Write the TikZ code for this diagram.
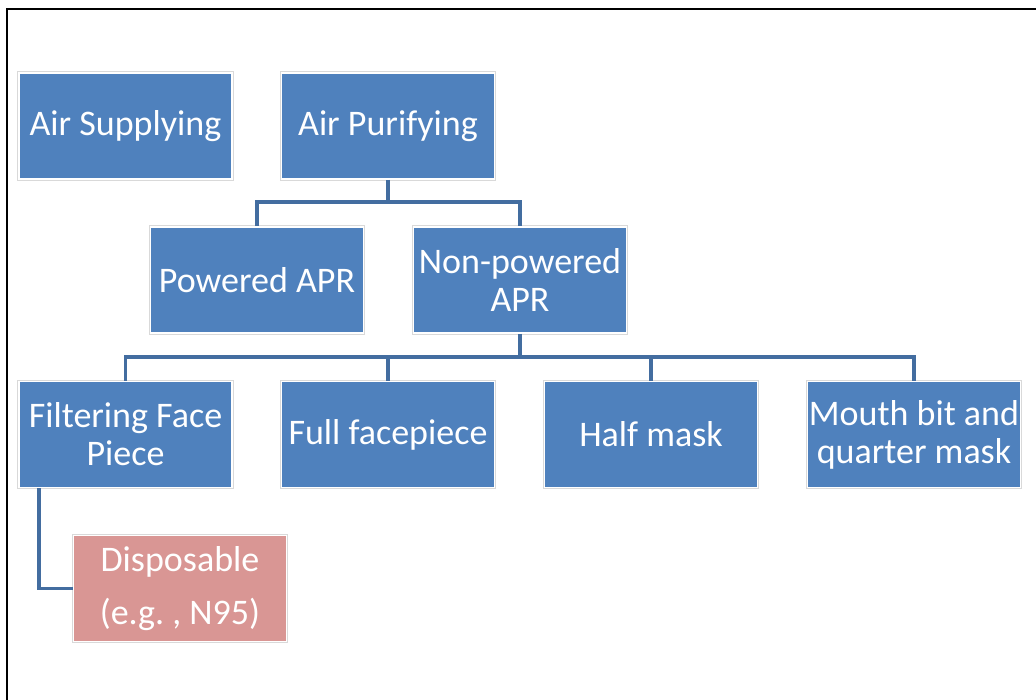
\documentclass[tikz,border=0pt]{standalone}
\usepackage{fontspec}
\setmainfont{Carlito}
\frenchspacing
\definecolor{boxblue}{HTML}{4F81BD}
\definecolor{boxpink}{HTML}{D99694}
\definecolor{linkblue}{HTML}{436DA0}
\definecolor{rimgray}{HTML}{D9D9D9}
\begin{document}
\begin{tikzpicture}[x=1pt,y=-1pt,
  box/.style={rectangle, fill=boxblue, draw=white, line width=1.6pt,
    preaction={draw=rimgray, line width=3.4pt},
    minimum width=213pt, minimum height=106pt, inner sep=0pt,
    text=white, align=center,
    font=\fontsize{36pt}{38pt}\selectfont},
  pinkbox/.style={box, fill=boxpink, font=\fontsize{36pt}{53pt}\selectfont},
  link/.style={draw=linkblue, line width=3.2pt}]
\useasboundingbox (0,0) rectangle (1036,700);
\fill[white] (0,0) rectangle (1036,700);
\draw[black, line width=1.6pt] (7,700) -- (7,9) -- (1036,9);

\node[box] (sup) at (125.5,126) {Air Supplying};
\node[box] (pur) at (388,126) {Air Purifying};
\node[box] (pow) at (257,280) {Powered APR};
\node[box] (non) at (520,280) {Non-powered\\APR};
\node[box] (ffp) at (125.5,434.5) {Filtering Face\\Piece};
\node[box] (full) at (388,434.5) {Full facepiece};
\node[box] (half) at (651,434.5) {Half mask};
\node[box] (mouth) at (914,434.5) {Mouth bit and\\quarter mask};
\node[pinkbox] (disp) at (180,588.5) {Disposable\\(e.g. , N95)};

\coordinate (j1) at (388,202);
\coordinate (j2) at (520,357);
\coordinate (j3) at (39,588.5);

\draw[link] (pur.south) -- (j1);
\draw[link] (j1) -| (pow.north);
\draw[link] (j1) -| (non.north);
\draw[link] (non.south) -- (j2);
\draw[link] (j2) -| (ffp.north);
\draw[link] (j2) -| (full.north);
\draw[link] (j2) -| (half.north);
\draw[link] (j2) -| (mouth.north);
\draw[link] (ffp.south -| j3) -- (j3) -- (disp.west);
\end{tikzpicture}
\end{document}
